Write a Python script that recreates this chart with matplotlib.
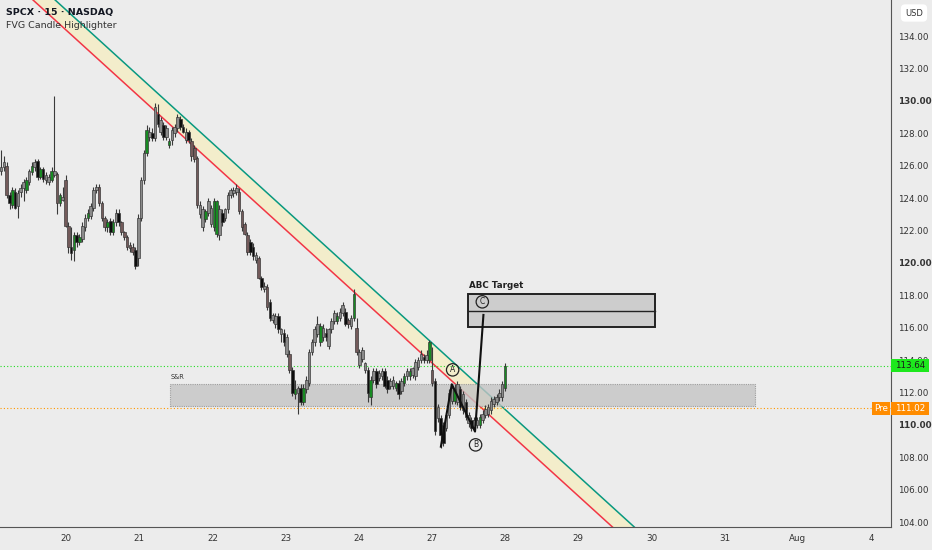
import numpy as np
import matplotlib
matplotlib.use("Agg")
import matplotlib.pyplot as plt
import matplotlib.transforms as mtransforms
from matplotlib.patches import Rectangle

# 15 minute candles, oldest first
opens = [
    125.7, 125.9, 126.0, 124.2, 123.6, 124.4, 123.5, 124.4, 124.6, 124.5,   # 0
    125.0, 125.6, 125.9, 126.3, 125.3, 125.8, 125.1, 125.0, 125.1, 125.4,   # 10
    125.5, 123.7, 123.9, 125.1, 122.3, 121.0, 120.8, 121.7, 121.3, 121.5,   # 20
    122.2, 122.8, 122.9, 123.4, 124.5, 124.7, 123.7, 122.8, 122.2, 122.6,   # 30
    121.9, 122.5, 123.1, 122.5, 121.9, 121.6, 121.1, 121.0, 120.8, 120.3,   # 40
    122.8, 125.1, 126.8, 127.8, 128.0, 127.7, 129.2, 128.1, 128.5, 127.8,   # 50
    127.3, 127.6, 128.0, 128.3, 128.9, 128.4, 127.6, 128.1, 127.5, 127.1,   # 60
    126.5, 123.0, 122.2, 122.7, 123.1, 122.4, 122.2, 121.8, 121.7, 123.1,   # 70
    122.8, 123.3, 124.2, 124.3, 124.4, 124.4, 123.2, 122.4, 121.7, 121.3,   # 80
    121.0, 120.2, 120.3, 119.1, 118.4, 118.5, 117.6, 116.5, 116.2, 116.7,   # 90
    115.6, 115.7, 114.4, 114.4, 113.4, 111.9, 112.0, 112.3, 111.4, 112.2,   # 100
    112.6, 114.5, 115.1, 115.6, 115.1, 115.4, 115.7, 114.9, 115.9, 116.4,   # 110
    116.4, 116.6, 116.9, 117.0, 116.5, 116.1, 116.6, 116.0, 113.7, 114.1,   # 120
    113.4, 113.4, 111.7, 112.8, 113.3, 112.9, 113.0, 113.3, 112.8, 112.4,   # 130
    112.4, 112.3, 112.6, 112.1, 112.6, 113.0, 113.0, 113.1, 113.0, 113.6,   # 140
    114.0, 114.2, 114.0, 114.0, 113.4, 112.7, 110.4, 110.4, 110.0, 109.8,   # 150
    110.6, 111.5, 111.5, 111.4, 112.2, 110.9, 111.4, 110.1, 110.3, 109.9,   # 160
    110.0, 110.0, 110.3, 110.6, 110.7, 110.9, 111.3, 111.4, 111.7, 111.7,   # 170
    112.3,
]
highs = [
    127.0, 126.6, 126.2, 124.4, 124.7, 124.6, 124.5, 124.9, 125.2, 125.3,
    125.8, 126.2, 126.4, 126.4, 125.9, 125.9, 125.6, 125.5, 125.9, 130.3,
    125.6, 124.3, 124.7, 125.4, 122.5, 122.2, 121.9, 121.9, 121.8, 122.5,
    123.0, 123.3, 123.7, 124.7, 124.9, 124.9, 123.8, 122.9, 122.7, 122.8,
    122.7, 123.3, 123.3, 122.6, 122.0, 121.7, 121.3, 121.2, 121.0, 123.0,
    125.3, 127.0, 128.5, 128.4, 128.3, 129.9, 129.8, 129.0, 128.7, 128.5,
    127.7, 128.4, 128.6, 129.2, 129.1, 128.6, 128.3, 128.2, 127.7, 127.3,
    126.6, 123.8, 123.5, 123.3, 124.0, 123.6, 124.0, 123.9, 123.6, 123.3,
    123.4, 124.4, 124.6, 124.7, 124.9, 124.6, 123.3, 122.5, 121.9, 121.5,
    121.2, 120.7, 120.4, 119.2, 118.8, 118.7, 117.8, 116.9, 116.9, 116.9,
    116.0, 115.9, 115.6, 114.6, 113.6, 112.8, 112.4, 112.5, 112.5, 113.0,
    114.7, 115.3, 116.1, 116.7, 116.3, 116.2, 116.0, 116.0, 116.6, 117.1,
    117.0, 117.2, 117.6, 117.2, 116.6, 116.8, 118.4, 116.6, 114.7, 114.8,
    113.9, 113.6, 113.0, 113.5, 113.5, 113.4, 113.5, 113.5, 113.0, 112.9,
    113.0, 112.7, 112.8, 112.9, 113.2, 113.5, 113.5, 113.6, 114.1, 114.2,
    114.6, 114.4, 114.6, 115.25, 114.8, 112.9, 111.3, 110.6, 110.2, 110.8,
    112.2, 112.5, 112.5, 112.7, 112.4, 112.1, 111.6, 110.8, 110.5, 110.5,
    110.5, 110.7, 110.9, 111.2, 111.3, 111.7, 111.8, 111.9, 112.2, 112.7,
    113.8,
]
lows = [
    125.4, 125.7, 124.0, 123.3, 123.4, 123.3, 122.8, 124.1, 123.8, 124.3,
    124.8, 125.4, 125.7, 125.1, 125.2, 125.0, 124.9, 124.8, 125.0, 125.3,
    123.0, 123.5, 123.8, 122.2, 120.6, 120.2, 120.1, 121.0, 121.1, 121.3,
    122.0, 122.6, 122.7, 123.2, 124.3, 123.5, 122.6, 122.0, 121.9, 121.7,
    121.7, 122.3, 122.3, 121.7, 121.4, 120.8, 120.7, 120.5, 119.6, 119.8,
    122.6, 124.9, 126.6, 127.5, 127.5, 127.5, 128.4, 127.9, 127.6, 127.6,
    127.1, 127.3, 127.8, 128.1, 128.2, 128.0, 127.4, 127.4, 126.3, 126.2,
    123.4, 122.8, 122.0, 122.5, 122.9, 122.2, 122.0, 121.6, 121.4, 122.3,
    122.6, 123.1, 124.0, 124.1, 124.2, 123.0, 122.0, 121.7, 120.5, 120.5,
    120.2, 120.0, 119.0, 118.3, 118.2, 117.1, 116.4, 116.3, 116.0, 115.7,
    115.1, 114.9, 114.2, 113.2, 111.8, 111.6, 110.7, 111.2, 111.2, 112.0,
    112.4, 114.3, 114.9, 115.4, 114.9, 115.2, 115.2, 114.7, 115.7, 116.2,
    116.2, 116.4, 116.7, 116.1, 116.0, 115.9, 116.4, 114.3, 113.5, 113.9,
    113.2, 111.4, 111.2, 112.6, 112.3, 112.7, 112.8, 112.3, 112.0, 112.2,
    112.2, 112.1, 111.6, 111.9, 112.4, 112.8, 112.8, 112.9, 112.8, 113.4,
    113.8, 113.8, 113.8, 113.8, 112.4, 109.4, 110.2, 108.6, 108.7, 109.6,
    110.4, 111.3, 111.3, 111.2, 110.9, 110.7, 110.3, 109.9, 109.6, 109.6,
    109.8, 109.8, 110.1, 110.4, 110.5, 110.7, 111.1, 111.2, 111.5, 111.5,
    112.1,
]
closes = [
    125.9, 126.2, 124.2, 123.7, 124.5, 123.4, 124.3, 124.6, 125.0, 125.1,
    125.7, 126.0, 126.2, 125.3, 125.8, 125.2, 125.4, 125.3, 125.7, 125.7,
    123.7, 124.2, 124.1, 122.3, 121.0, 120.6, 121.7, 121.3, 121.6, 122.3,
    122.8, 123.1, 123.5, 124.5, 124.7, 123.7, 122.8, 122.2, 122.5, 121.9,
    122.5, 123.1, 122.5, 121.9, 121.6, 121.0, 120.9, 120.7, 119.8, 122.8,
    125.1, 126.8, 128.2, 128.1, 127.7, 129.6, 128.6, 128.8, 127.8, 128.3,
    127.5, 128.2, 128.4, 129.0, 128.4, 128.1, 128.1, 127.6, 126.6, 126.4,
    123.6, 123.6, 123.3, 123.2, 123.8, 123.4, 123.8, 123.8, 123.3, 122.5,
    123.3, 124.2, 124.5, 124.5, 124.6, 123.2, 122.2, 121.8, 120.7, 120.7,
    120.4, 120.5, 119.1, 118.5, 118.6, 117.3, 116.6, 116.8, 116.7, 115.9,
    115.9, 115.1, 115.4, 113.4, 112.0, 112.2, 112.3, 111.4, 112.3, 112.8,
    114.5, 115.1, 115.9, 116.2, 116.1, 116.0, 115.4, 115.9, 116.4, 116.9,
    116.7, 117.0, 117.4, 116.2, 116.2, 116.6, 118.1, 114.5, 114.5, 114.6,
    113.8, 112.0, 112.8, 113.3, 112.5, 113.2, 113.3, 112.4, 112.2, 112.7,
    112.8, 112.6, 111.9, 112.7, 113.0, 113.3, 113.3, 113.5, 113.9, 114.0,
    114.4, 114.0, 114.3, 115.1, 112.6, 109.6, 111.1, 109.4, 108.9, 110.6,
    112.0, 112.3, 112.2, 112.5, 111.1, 111.9, 110.5, 110.6, 109.8, 110.3,
    110.3, 110.5, 110.7, 111.0, 111.1, 111.5, 111.6, 111.7, 112.0, 112.5,
    113.64,
]
# candles painted by the FVG highlighter
fvg_up = [4, 9, 11, 14, 18, 21, 26, 28, 31, 38, 40, 52, 60, 73, 76, 77, 105,
          108, 114, 120, 126, 132, 141, 144, 146, 153, 162, 171, 180]
fvg_dn = [3, 5, 13, 15, 25, 27, 39, 42, 48, 54, 56, 58, 64, 65, 67, 79, 89,
          90, 93, 96, 99, 101, 104, 107, 116, 123, 131, 134, 137, 138, 142,
          151, 155, 157, 158, 164, 166, 168]

day_labels = ['20', '21', '22', '23', '24', '27', '28', '29', '30', '31', 'Aug', '4']
price_ticks = [104, 106, 108, 110, 112, 114, 116, 118, 120, 122, 124, 126,
               128, 130, 132, 134]

# drawings (x in bars, y in USD)
chan_low = [(11.4, 136.23), (216.8, 103.95)]
chan_high = [(19.3, 136.23), (224.6, 103.95)]
sr_x = (60.4, 269.3)
sr_y = (111.17, 112.53)
target_x = (166.8, 233.6)
target_y = (116.05, 117.04, 118.09)
abc_x = [157.1, 161.0, 169.3, 172.3]
abc_y = [108.66, 112.51, 109.59, 116.79]
abc_labels = [('A', 161.3, 113.4), ('B', 169.5, 108.77), ('C', 171.9, 117.6)]
last_price = 113.64
pre_price = 111.02

bg = '#ececec'
plt.rcParams['font.family'] = ['DejaVu Sans']

fig = plt.figure(figsize=(9.32, 5.5), dpi=100, facecolor=bg)
ax = fig.add_axes([0, 23 / 550, 891 / 932, 527 / 550])
ax.set_facecolor(bg)
ax.set_xlim(-0.4, 317.9)
ax.set_ylim(103.7, 136.23)

# channel
xs = np.array([-5.0, 330.0])
def line_y(pts, x):
    (x1, y1), (x2, y2) = pts
    return y1 + (y2 - y1) * (x - x1) / (x2 - x1)
ax.fill_between(xs, line_y(chan_low, xs), line_y(chan_high, xs),
                color='#f3edcb', zorder=1, lw=0)
ax.plot(xs, line_y(chan_low, xs), color='#f23645', lw=1.1, zorder=2)
ax.plot(xs, line_y(chan_high, xs), color='#089981', lw=1.1, zorder=2)

# support / resistance zone
ax.add_patch(Rectangle((sr_x[0], sr_y[0]), sr_x[1] - sr_x[0], sr_y[1] - sr_y[0],
                       fc='#c4c4c4', ec='#8c8c8c', ls=(0, (1, 1)), lw=0.8,
                       alpha=0.8, zorder=2.2))
ax.text(sr_x[0], sr_y[1] + 0.25, 'S&R', fontsize=4.8, color='#333333',
        va='bottom', ha='left', zorder=6)

# price lines
ax.axhline(last_price, color='#22dd22', ls=(0, (1, 2)), lw=0.8, zorder=2.3)
ax.axhline(pre_price, color='#ff9800', ls=(0, (1, 2)), lw=0.8, zorder=2.3)

# candles
x = np.arange(len(closes))
o = np.array(opens)
c = np.array(closes)
colors = []
for i in range(len(closes)):
    if i in fvg_up:
        colors.append('#178a22')
    elif i in fvg_dn:
        colors.append('#0d0d0d')
    elif c[i] >= o[i]:
        colors.append('#8a8a8a')
    else:
        colors.append('#735a5a')
ax.vlines(x, lows, highs, color='#3a3a3a', lw=0.8, zorder=3)
body = np.maximum(np.abs(c - o), 0.08)
ax.bar(x, body, bottom=np.minimum(o, c), width=0.92, color=colors,
       edgecolor='#303030', linewidth=0.45, zorder=3.1)

# ABC target box
ax.add_patch(Rectangle((target_x[0], target_y[0]), target_x[1] - target_x[0],
                       target_y[2] - target_y[0], fc='#cdcdcd', ec='#222222',
                       lw=1.4, zorder=4))
ax.plot(target_x, [target_y[1], target_y[1]], color='#222222', lw=1.0, zorder=4.1)
ax.text(target_x[0] + 0.5, target_y[2] + 0.22, 'ABC Target', fontsize=6.3,
        fontweight='bold', color='#222222', va='bottom', ha='left', zorder=6)

# ABC swing
ax.plot(abc_x, abc_y, color='#111111', lw=1.5, zorder=5)
for lab, lx, ly in abc_labels:
    ax.text(lx, ly, lab, fontsize=5.5, color='#222222', ha='center', va='center',
            zorder=6, bbox=dict(boxstyle='circle,pad=0.22', fc='none',
                                ec='#222222', lw=0.9))

# axes look
for s in ['top', 'left']:
    ax.spines[s].set_visible(False)
for s in ['right', 'bottom']:
    ax.spines[s].set_color('#555555')
    ax.spines[s].set_linewidth(0.8)

ax.yaxis.tick_right()
ax.set_yticks(price_ticks)
ax.set_yticklabels([f'{v:.2f}' for v in price_ticks])
for t in ax.get_yticklabels():
    if t.get_text() in ('110.00', '120.00', '130.00'):
        t.set_fontweight('bold')
ax.tick_params(axis='y', length=0, pad=5, labelsize=6.3, colors='#333333')

day_pos = 23.2 + 26.14 * np.arange(len(day_labels))
ax.set_xticks(day_pos)
ax.set_xticklabels(day_labels)
ax.tick_params(axis='x', length=0, pad=5, labelsize=6.3, colors='#333333')

# price tags on the axis
tr = mtransforms.blended_transform_factory(ax.transAxes, ax.transData)
ax.add_patch(Rectangle((1.0, last_price - 0.4), 0.043, 0.8, transform=tr,
                       fc='#1de81d', ec='none', clip_on=False, zorder=7))
ax.text(1.0215, last_price, f'{last_price:.2f}', transform=tr, fontsize=6.3,
        color='#1a1a1a', ha='center', va='center', clip_on=False, zorder=8)
ax.add_patch(Rectangle((1.0, pre_price - 0.4), 0.043, 0.8, transform=tr,
                       fc='#ff8c00', ec='none', clip_on=False, zorder=7))
ax.text(1.0215, pre_price, f'{pre_price:.2f}', transform=tr, fontsize=6.3,
        color='white', ha='center', va='center', clip_on=False, zorder=8)
ax.add_patch(Rectangle((0.9787, pre_price - 0.4), 0.0205, 0.8, transform=tr,
                       fc='#ff8c00', ec='none', clip_on=False, zorder=7))
ax.text(0.989, pre_price, 'Pre', transform=tr, fontsize=6.3,
        color='white', ha='center', va='center', clip_on=False, zorder=8)

# header
fig.text(6 / 932, 1 - 13 / 550, 'SPCX · 15 · NASDAQ', fontsize=6.8,
         fontweight='bold', color='#131722', va='center', ha='left')
fig.text(6 / 932, 1 - 26 / 550, 'FVG Candle Highlighter', fontsize=6.8,
         color='#333333', va='center', ha='left')
fig.text(914 / 932, 1 - 13 / 550, 'USD', fontsize=6, color='#333333',
         ha='center', va='center',
         bbox=dict(boxstyle='round,pad=0.5', fc='white', ec='none'))

fig.savefig('out.png', dpi=100, facecolor=bg)
